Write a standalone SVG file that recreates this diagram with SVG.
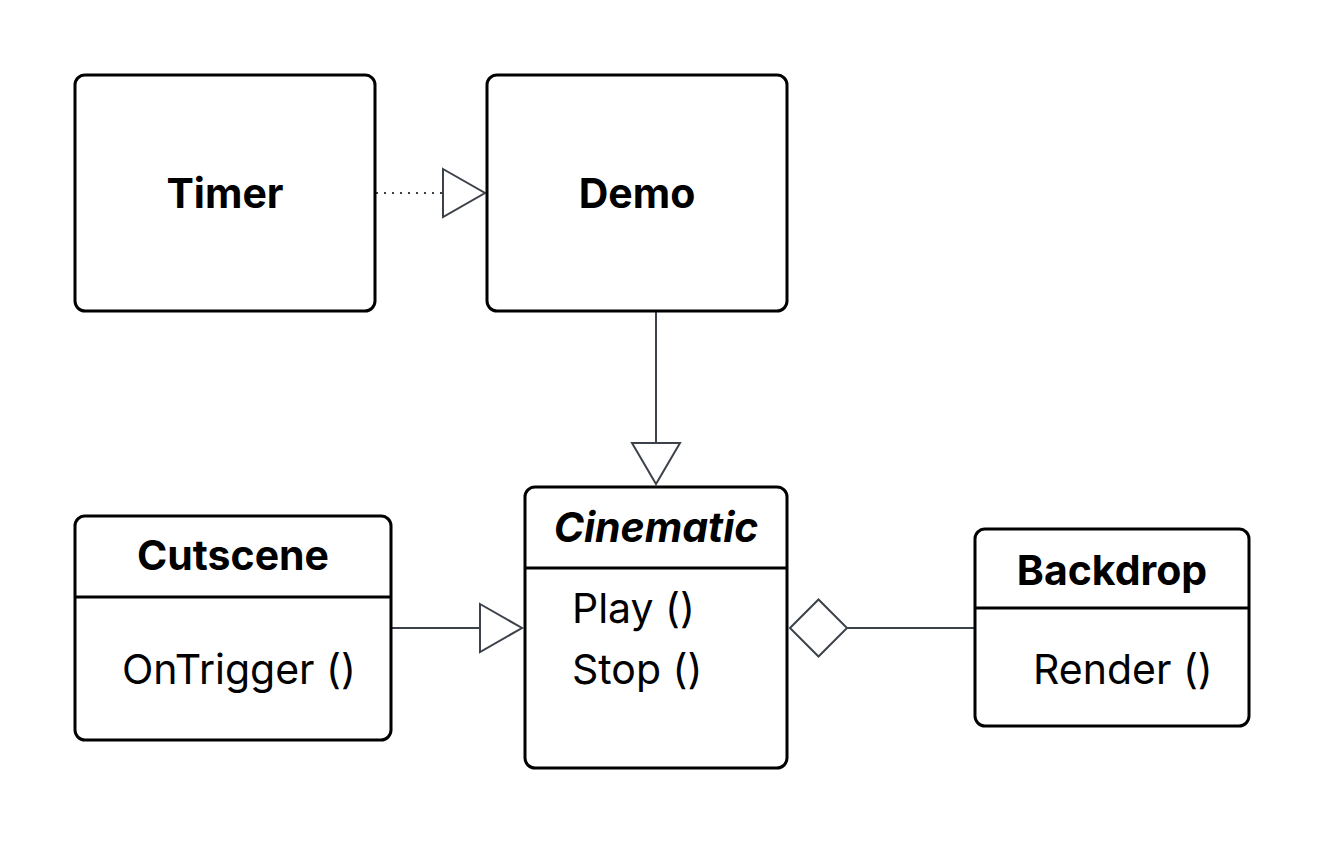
<svg xmlns="http://www.w3.org/2000/svg" width="1324" height="844" viewBox="0 0 1324 844">
<style>
.box{fill:#fff;stroke:#000;stroke-width:3}
.div{stroke:#000;stroke-width:3}
.t{font-family:Inter,"Noto Sans",sans-serif;font-size:41px;fill:#000}
.b{font-weight:bold;text-anchor:middle}
.c{stroke:#3d424a;stroke-width:2;fill:none}
.h{stroke:#3d424a;stroke-width:2;fill:#fff}
</style>
<rect width="1324" height="844" fill="#fff"/>
<g id="connectors">
<line class="c" x1="376" y1="193" x2="443" y2="193" stroke-dasharray="2 6"/>
<polygon class="h" points="443,169 485,193 443,217"/>
<line class="c" x1="656" y1="311" x2="656" y2="443"/>
<polygon class="h" points="632,443 680,443 656,484"/>
<line class="c" x1="391" y1="628" x2="480" y2="628"/>
<polygon class="h" points="480,604 522,628 480,652"/>
<line class="c" x1="847" y1="628" x2="975" y2="628"/>
<polygon class="h" points="790,628 818.5,599.5 847,628 818.5,656.5"/>
</g>
<g id="timer">
<rect class="box" x="75" y="75" width="300" height="236" rx="10"/>
<text class="t b" x="225" y="208">Timer</text>
</g>
<g id="demo">
<rect class="box" x="487" y="75" width="300" height="236" rx="10"/>
<text class="t b" x="637" y="208">Demo</text>
</g>
<g id="cinematic">
<rect class="box" x="525" y="487" width="262" height="281" rx="10"/>
<line class="div" x1="525" y1="568" x2="787" y2="568"/>
<text class="t b" x="656" y="542" font-style="italic">Cinematic</text>
<text class="t" x="572" y="623">Play ()</text>
<text class="t" x="572" y="684">Stop ()</text>
</g>
<g id="cutscene">
<rect class="box" x="75" y="516" width="316" height="224" rx="10"/>
<line class="div" x1="75" y1="597" x2="391" y2="597"/>
<text class="t b" x="233" y="570">Cutscene</text>
<text class="t" x="122" y="684">OnTrigger ()</text>
</g>
<g id="backdrop">
<rect class="box" x="975" y="529" width="274" height="197" rx="10"/>
<line class="div" x1="975" y1="608" x2="1249" y2="608"/>
<text class="t b" x="1112" y="585">Backdrop</text>
<text class="t" x="1033" y="684">Render ()</text>
</g>
</svg>
